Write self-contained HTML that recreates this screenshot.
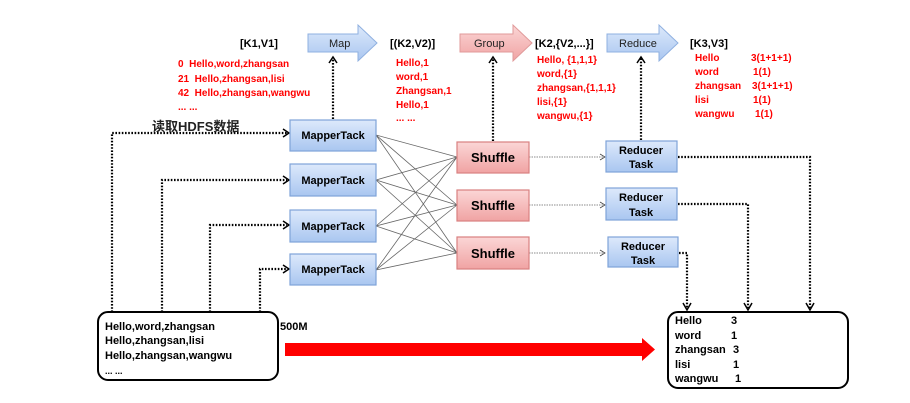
<!DOCTYPE html>
<html><head><meta charset="utf-8"><style>
html,body{margin:0;padding:0;background:#fff;}
svg{display:block;font-family:"Liberation Sans","Noto Sans CJK SC",sans-serif;}
.b{font-weight:bold;font-size:11px;fill:#000;}
.r{font-weight:bold;font-size:10px;fill:#f00;}
.d{stroke:#000;stroke-width:2.2;stroke-dasharray:1.6 1.6;fill:none;}
.t{stroke:#666;stroke-width:0.8;fill:none;}
</style></head><body>
<svg width="910" height="403" viewBox="0 0 910 403">
<defs>
<linearGradient id="bl" x1="0" y1="0" x2="0" y2="1"><stop offset="0" stop-color="#dde9fb"/><stop offset="1" stop-color="#a9c6f0"/></linearGradient>
<linearGradient id="rd" x1="0" y1="0" x2="0" y2="1"><stop offset="0" stop-color="#fbd6d6"/><stop offset="1" stop-color="#f0a3a3"/></linearGradient>
</defs>
<!-- top arrows -->
<path d="M308,34 H358 V25 L377,43 L358,61 V52 H308 Z" fill="url(#bl)" stroke="#8fb0e0"/>
<text x="329" y="47" font-size="11" fill="#222">Map</text>
<path d="M460,34 H513 V25 L532,43 L513,61 V52 H460 Z" fill="url(#rd)" stroke="#e09a9a"/>
<text x="474" y="47" font-size="11" fill="#222">Group</text>
<path d="M607,34 H659 V25 L678,43 L659,61 V52 H607 Z" fill="url(#bl)" stroke="#8fb0e0"/>
<text x="619" y="47" font-size="11" fill="#222">Reduce</text>
<text class="b" x="240" y="47" font-size="12">[K1,V1]</text>
<text class="b" x="390" y="47" font-size="12">[(K2,V2)]</text>
<text class="b" x="535" y="47" font-size="12">[K2,{V2,...}]</text>
<text class="b" x="690" y="47" font-size="12">[K3,V3]</text>
<g class="r">
<text x="178" y="67">0&#160;&#160;Hello,word,zhangsan</text>
<text x="178" y="82">21&#160;&#160;Hello,zhangsan,lisi</text>
<text x="178" y="96">42&#160;&#160;Hello,zhangsan,wangwu</text>
<text x="178" y="110">... ...</text>
<text x="396" y="66">Hello,1</text><text x="396" y="80">word,1</text><text x="396" y="94">Zhangsan,1</text><text x="396" y="108">Hello,1</text><text x="396" y="121">... ...</text>
<text x="537" y="63">Hello, {1,1,1}</text><text x="537" y="77">word,{1}</text><text x="537" y="91">zhangsan,{1,1,1}</text><text x="537" y="105">lisi,{1}</text><text x="537" y="119">wangwu,{1}</text>
<text x="695" y="61">Hello</text><text x="751" y="61">3(1+1+1)</text>
<text x="695" y="75">word</text><text x="753" y="75">1(1)</text>
<text x="695" y="89">zhangsan</text><text x="752" y="89">3(1+1+1)</text>
<text x="695" y="103">lisi</text><text x="753" y="103">1(1)</text>
<text x="695" y="117">wangwu</text><text x="755" y="117">1(1)</text>
</g>
<!-- dotted up lines -->
<path class="d" d="M333,119 V58 M493,141 V58 M641,140 V58"/>
<path d="M329,63 L333,57 L337,63 M489,63 L493,57 L497,63 M637,63 L641,57 L645,63" stroke="#000" stroke-width="1.5" fill="none"/>
<text x="152" y="131" font-size="13" font-weight="bold" fill="#222">读取HDFS数据</text>
<!-- input dotted -->
<path class="d" d="M112,312 V133 H287 M162,312 V180 H287 M210,312 V225 H287 M260,312 V269 H287"/>
<path d="M283,129 L289,133 L283,137 M283,176 L289,180 L283,184 M283,221 L289,225 L283,229 M283,265 L289,269 L283,273" stroke="#000" stroke-width="1.5" fill="none"/>
<!-- cross lines -->
<g class="t">
<path d="M376,135 L457,157 M376,135 L457,205 M376,135 L457,253 M376,180 L457,157 M376,180 L457,205 M376,180 L457,253 M376,226 L457,157 M376,226 L457,205 M376,226 L457,253 M376,270 L457,157 M376,270 L457,205 M376,270 L457,253"/>
<path d="M529,157 H604 M529,205 H604 M529,253 H604" stroke-dasharray="1.5 1"/>
<path d="M600,154 L605,157 L600,160 M600,202 L605,205 L600,208 M600,250 L605,253 L600,256" stroke="#444"/>
</g>
<!-- mapper boxes -->
<g fill="url(#bl)" stroke="#7fa3d8" stroke-width="1.2">
<rect x="290" y="120" width="86" height="31"/><rect x="290" y="164" width="86" height="32"/><rect x="290" y="210" width="86" height="32"/><rect x="290" y="254" width="86" height="31"/>
</g>
<g class="b" text-anchor="middle">
<text x="333" y="139">MapperTack</text><text x="333" y="184">MapperTack</text><text x="333" y="230">MapperTack</text><text x="333" y="273">MapperTack</text>
</g>
<g fill="url(#rd)" stroke="#d98080" stroke-width="1.2">
<rect x="457" y="142" width="72" height="31"/><rect x="457" y="190" width="72" height="31"/><rect x="457" y="237" width="72" height="32"/>
</g>
<g font-weight="bold" font-size="13" text-anchor="middle">
<text x="493" y="162">Shuffle</text><text x="493" y="210">Shuffle</text><text x="493" y="258">Shuffle</text>
</g>
<g fill="url(#bl)" stroke="#7fa3d8" stroke-width="1.2">
<rect x="606" y="141" width="71" height="31"/><rect x="606" y="188" width="71" height="32"/><rect x="608" y="237" width="70" height="30"/>
</g>
<g class="b" text-anchor="middle">
<text x="641" y="154">Reducer</text><text x="641" y="168">Task</text>
<text x="641" y="201">Reducer</text><text x="641" y="216">Task</text>
<text x="643" y="250">Reducer</text><text x="643" y="264">Task</text>
</g>
<!-- reducer output dotted -->
<path class="d" d="M678,157 H810 V308 M678,204 H748 V308 M679,253 H687 V308"/>
<path d="M806,303 L810,310 L814,303 M744,303 L748,310 L752,303 M683,303 L687,310 L691,303" stroke="#000" stroke-width="1.5" fill="none"/>
<!-- data boxes -->
<rect x="98" y="312" width="180" height="68" rx="10" fill="#fff" stroke="#000" stroke-width="2"/>
<g class="b" font-size="10">
<text x="105" y="330">Hello,word,zhangsan</text><text x="105" y="344">Hello,zhangsan,lisi</text><text x="105" y="359">Hello,zhangsan,wangwu</text><text x="105" y="374" font-size="9">... ...</text>
</g>
<text class="b" x="280" y="330" font-size="10">500M</text>
<path d="M285,343 H642 V338 L655,349.5 L642,361 V356 H285 Z" fill="#f00"/>
<rect x="668" y="312" width="180" height="76" rx="10" fill="#fff" stroke="#000" stroke-width="2"/>
<g class="b" font-size="10">
<text x="675" y="324">Hello</text><text x="731" y="324">3</text>
<text x="675" y="339">word</text><text x="731" y="339">1</text>
<text x="675" y="353">zhangsan</text><text x="733" y="353">3</text>
<text x="675" y="368">lisi</text><text x="733" y="368">1</text>
<text x="675" y="382">wangwu</text><text x="735" y="382">1</text>
</g>
</svg>
</body></html>
